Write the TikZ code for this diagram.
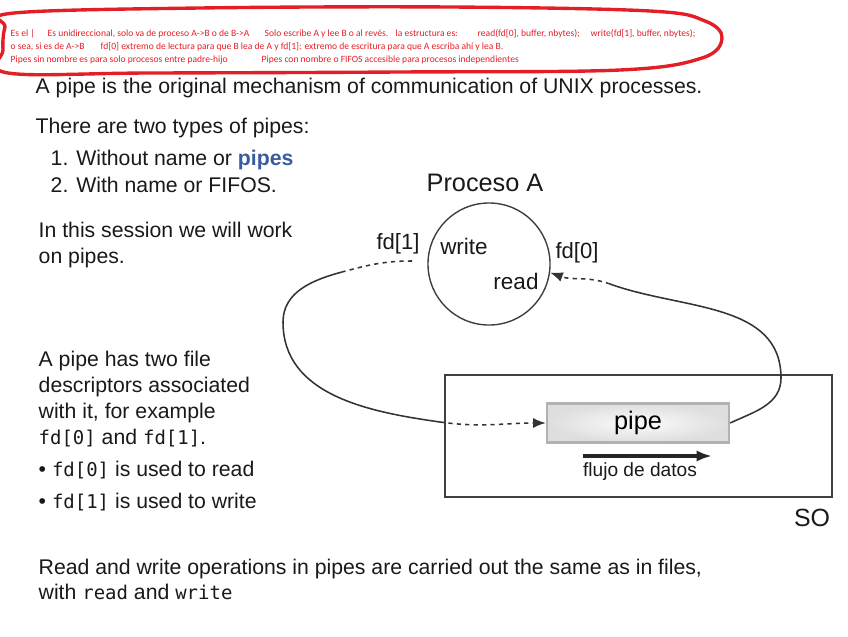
\documentclass[tikz,border=0pt]{standalone}
\usepackage{fontspec}
\setmainfont{Liberation Sans}
\setmonofont{DejaVu Sans Mono}
\newfontfamily\notefont{Carlito}
\usepackage{xcolor}
\usetikzlibrary{arrows.meta, calc, positioning}
\definecolor{inkred}{RGB}{228,30,38}
\definecolor{pipeblue}{RGB}{58,92,158}
\newcommand{\fdtt}[1]{{\ttfamily\fontsize{13.5}{16}\selectfont #1}}

\begin{document}
\begin{tikzpicture}[x=0.025cm, y=-0.025cm, line width=1pt,
  note/.style={anchor=base west, inner sep=0, text=inkred, font=\notefont\fontsize{6.8}{7}\selectfont},
  body/.style={anchor=base west, inner sep=0, text=black!90, font=\fontsize{15.1}{18}\selectfont},
  lbl/.style={inner sep=0, text=black!90, font=\fontsize{15.7}{18}\selectfont},
  conn/.style={line width=1.1pt, black!80},
  tip/.style={-{Latex[length=9pt,width=7pt]}},
  pipebox/.style={draw=gray!60, line width=1.6pt, shading=radial, inner color=gray!3, outer color=gray!26,
    minimum width=4.55cm, minimum height=0.975cm, inner sep=0, font=\fontsize{18}{20}\selectfont}]
    \useasboundingbox (0,0) rectangle (848,637);

    % notes in red
    \draw[inkred, line width=2.4pt, line join=round] plot[smooth cycle, tension=0.6] coordinates
        {(14,13) (200,8) (450,7) (650,11) (705,21) (722,38) (702,58) (620,70) (400,72) (150,73) (8,73) (3,50) (5,27)};
    \node[note] (n1) at (10,36.5) {Es el |};
    \node[note] (n2) at (47,36.5) {Es unidireccional, solo va de proceso A->B o de B->A};
    \node[note] (n3) at (264,36.5) {Solo escribe A y lee B o al revés.};
    \node[note] (n4) at (395,36.5) {la estructura es:};
    \node[note] (n5) at (477,36.5) {read(fd[0], buffer, nbytes);};
    \node[note] (n6) at (590,36.5) {write(fd[1], buffer, nbytes);};
    \node[note] (n7) at (10,49.5) {o sea, si es de A->B};
    \node[note] (n8) at (100,49.5) {fd[0] extremo de lectura para que B lea de A y fd[1]: extremo de escritura para que A escriba ahí y lea B.};
    \node[note] (n9) at (10,62.5) {Pipes sin nombre es para solo procesos entre padre-hijo};
    \node[note] (n10) at (261,62.5) {Pipes con nombre o FIFOS accesible para procesos independientes};

    % slide text
    \node[body] (t1) at (35,94) {A pipe is the original mechanism of communication of UNIX processes.};
    \node[body] (t2) at (35,134) {There are two types of pipes:};
    \node[body] (t3) at (50,165) {1. Without name or {\bfseries\color{pipeblue}pipes}};
    \node[body] (t4) at (50,192) {2. With name or FIFOS.};
    \node[body] (t5) at (38,237) {In this session we will work};
    \node[body] (t6) at (38,263) {on pipes.};
    \node[body] (t7) at (38,366) {A pipe has two file};
    \node[body] (t8) at (38,392) {descriptors associated};
    \node[body] (t9) at (38,418) {with it, for example};
    \node[body] (t10) at (38,444) {\fdtt{fd[0]} and \fdtt{fd[1]}.};
    \node[body] (t11) at (38,476) {\textbullet\ \fdtt{fd[0]} is used to read};
    \node[body] (t12) at (38,508) {\textbullet\ \fdtt{fd[1]} is used to write};
    \node[body] (t13) at (38,574) {Read and write operations in pipes are carried out the same as in files,};
    \node[body] (t14) at (38,599) {with \fdtt{read} and \fdtt{write}};

    % process and pipe
    \node[lbl, font=\fontsize{18}{20}\selectfont] (procA) at (485,183) {Proceso A};
    \node[circle, draw=black!75, line width=1pt, minimum size=3.05cm, inner sep=0] (proc) at (489,264) {};
    \node[lbl, font=\fontsize{16}{18}\selectfont] (wr) at (464,246) {write};
    \node[lbl, font=\fontsize{16}{18}\selectfont] (rd) at (516,281) {read};
    \node[lbl] (fdone) at (398,244) {fd[1]};
    \node[lbl] (fdzero) at (577,253) {fd[0]};

    \node[draw=black!75, line width=1.3pt, minimum width=9.675cm, minimum height=3.05cm, inner sep=0] (so) at (638.5,436) {};
    \node[lbl, font=\fontsize{17.7}{20}\selectfont] (solbl) at (812,518) {SO};
    \node[pipebox] (pipe) at (638,423) {pipe};
    \node[lbl, font=\fontsize{13.6}{16}\selectfont] (flujo) at (640,472) {flujo de datos};
    \coordinate (fa) at (583,456);
    \coordinate (fb) at (712,456);
    \draw[line width=2.2pt, black!85, -{Latex[length=11pt,width=8pt]}] (fa) -- (fb);

    % connectors
    \coordinate (wout) at (412,261);
    \coordinate (c1) at (342,272);
    \coordinate (c2) at (283,322);
    \coordinate (c3) at (440,422);
    \draw[conn, dashed] (wout) to[out=180,in=15] (c1);
    \draw[conn] (c1) to[out=195,in=90] (c2) to[out=270,in=172] (c3);
    \draw[conn, dashed, tip] (c3) to[out=-8,in=180] (pipe.west);

    \coordinate (r1) at (781,378);
    \coordinate (r2) at (610,284);
    \draw[conn] (pipe.east) to[out=25,in=270] (r1) to[out=90,in=-20] (r2);
    \draw[conn, dashed, tip] (r2) to[out=160,in=-20] (proc.-8);
\end{tikzpicture}
\end{document}
